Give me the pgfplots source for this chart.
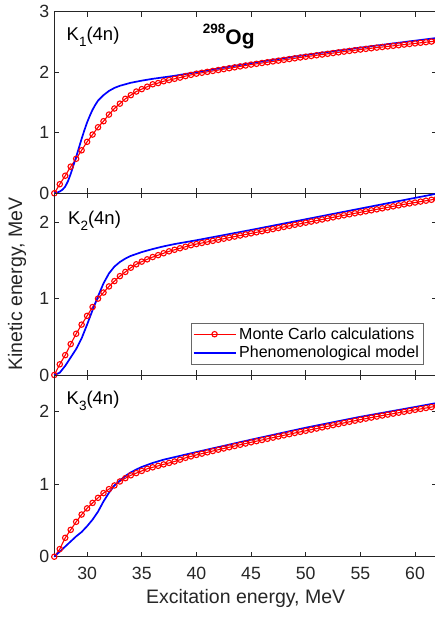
\documentclass[border=0pt]{standalone}
\usepackage{fontspec}
\setmainfont{Liberation Sans}
\usepackage{pgfplots}
\pgfplotsset{compat=1.18}
\definecolor{axgray}{RGB}{38,38,38}
\definecolor{mred}{RGB}{255,0,0}
\definecolor{mblue}{RGB}{0,0,255}

\pgfplotsset{
  panel/.style={
    scale only axis, width=382.6pt, height=181.7pt,
    xmin=27, xmax=62,
    xtick={30,35,...,60},
    tick align=inside, major tick length=5pt,
    axis line style={axgray, line width=0.6pt},
    every tick/.style={axgray, line width=0.6pt},
    tick label style={font=\fontsize{17.7}{20}\selectfont, text=axgray},
    xticklabel style={yshift=-7pt},
    yticklabel style={xshift=-1.5pt},
    /pgf/number format/assume math mode=true,
    clip=false,
  },
  mc/.style={mred, line width=1.1pt, mark=o, mark size=2.7pt, mark options={line width=1.1pt, solid}},
  ph/.style={mblue, line width=1.7pt},
  legmc/.style={mc, legend image code/.code={\draw[mark repeat=2,mark phase=2,##1] plot coordinates {(0pt,0pt) (21pt,0pt) (42pt,0pt)};}},
  legph/.style={ph, legend image code/.code={\draw[##1] (0pt,0pt) -- (42pt,0pt);}},
}

\pgfplotstableread{
x y
27 0
27.5 0.15
28 0.29
28.5 0.44
29 0.57
29.5 0.71
30 0.85
30.5 0.97
31 1.09
31.5 1.19
32 1.30
32.5 1.40
33 1.48
33.5 1.56
34 1.62
34.5 1.68
35 1.72
35.5 1.76
36 1.80
36.5 1.82
37 1.85
37.5 1.87
38 1.89
38.5 1.91
39 1.935
39.5 1.955
40 1.975
40.5 1.99
41 2.005
41.5 2.02
42 2.035
42.5 2.05
43 2.065
43.5 2.08
44 2.095
44.5 2.11
45 2.125
45.5 2.138
46 2.151
46.5 2.164
47 2.177
47.5 2.19
48 2.203
48.5 2.216
49 2.229
49.5 2.242
50 2.255
50.5 2.267
51 2.279
51.5 2.291
52 2.303
52.5 2.315
53 2.327
53.5 2.339
54 2.351
54.5 2.362
55 2.373
55.5 2.384
56 2.395
56.5 2.405
57 2.415
57.5 2.425
58 2.435
58.5 2.445
59 2.455
59.5 2.465
60 2.475
60.5 2.485
61 2.495
61.5 2.505
62 2.515
}\redA

\pgfplotstableread{
x y
27 0
27.25 0.01
27.5 0.03
27.75 0.06
28 0.11
28.25 0.20
28.5 0.32
28.75 0.46
29 0.60
29.25 0.75
29.5 0.90
29.75 1.04
30 1.17
30.25 1.28
30.5 1.38
30.75 1.46
31 1.53
31.5 1.62
32 1.69
32.5 1.74
33 1.775
33.5 1.80
34 1.825
35 1.86
36 1.89
37 1.915
38 1.94
39 1.97
40 2.00
42 2.06
45 2.15
50 2.285
55 2.405
60 2.52
62 2.565
}\blueA

\pgfplotstableread{
x y
27 0
27.5 0.14
28 0.26
28.5 0.405
29 0.54
29.5 0.66
30 0.775
30.5 0.89
31 1.0
31.5 1.08
32 1.16
32.5 1.23
33 1.295
33.5 1.35
34 1.405
34.5 1.45
35 1.485
35.5 1.515
36 1.545
36.5 1.57
37 1.595
37.5 1.62
38 1.64
38.5 1.66
39 1.68
39.5 1.70
40 1.715
40.5 1.729
41 1.743
41.5 1.757
42 1.771
42.5 1.785
43 1.799
43.5 1.813
44 1.827
44.5 1.841
45 1.855
45.5 1.869
46 1.883
46.5 1.897
47 1.911
47.5 1.925
48 1.939
48.5 1.953
49 1.967
49.5 1.981
50 1.995
50.5 2.009
51 2.023
51.5 2.037
52 2.051
52.5 2.065
53 2.079
53.5 2.092
54 2.105
54.5 2.118
55 2.131
55.5 2.144
56 2.157
56.5 2.170
57 2.183
57.5 2.196
58 2.209
58.5 2.222
59 2.235
59.5 2.247
60 2.259
60.5 2.271
61 2.283
61.5 2.295
62 2.307
}\redB

\pgfplotstableread{
x y
27 0
27.5 0.03
28 0.12
28.5 0.23
29 0.34
29.5 0.48
30 0.66
30.5 0.85
31 1.03
31.5 1.20
32 1.33
32.5 1.42
33 1.48
33.5 1.525
34 1.56
35 1.61
36 1.65
37 1.685
38 1.715
40 1.765
45 1.90
50 2.04
55 2.18
60 2.32
62 2.375
}\blueB

\pgfplotstableread{
x y
27 0
27.5 0.105
28 0.26
28.5 0.37
29 0.48
29.5 0.58
30 0.665
30.5 0.74
31 0.81
31.5 0.875
32 0.93
32.5 0.98
33 1.035
33.5 1.08
34 1.12
34.5 1.15
35 1.18
35.5 1.21
36 1.23
36.5 1.25
37 1.27
37.5 1.29
38 1.31
38.5 1.335
39 1.36
39.5 1.38
40 1.40
40.5 1.418
41 1.436
41.5 1.454
42 1.472
42.5 1.489
43 1.506
43.5 1.523
44 1.540
44.5 1.557
45 1.574
45.5 1.590
46 1.606
46.5 1.622
47 1.638
47.5 1.654
48 1.670
48.5 1.686
49 1.702
49.5 1.717
50 1.732
50.5 1.748
51 1.763
51.5 1.779
52 1.794
52.5 1.810
53 1.825
53.5 1.841
54 1.856
54.5 1.871
55 1.886
55.5 1.900
56 1.914
56.5 1.928
57 1.942
57.5 1.955
58 1.968
58.5 1.981
59 1.994
59.5 2.007
60 2.020
60.5 2.033
61 2.046
61.5 2.059
62 2.072
}\redC

\pgfplotstableread{
x y
27 0
27.5 0.07
28 0.14
28.5 0.21
29 0.28
29.5 0.34
30 0.42
30.5 0.51
31 0.62
31.5 0.76
32 0.88
32.5 0.98
33 1.05
33.5 1.11
34 1.16
34.5 1.20
35 1.235
36 1.29
37 1.335
38 1.37
40 1.44
45 1.61
50 1.775
55 1.925
60 2.06
62 2.115
}\blueC

\begin{document}
\begin{tikzpicture}
% panel 1
\begin{axis}[panel, at={(54.3pt,423.7pt)}, anchor=south west,
  ymin=0, ymax=3, ytick={0,1,2,3}, xticklabels={}]
  \addplot[mc] table {\redA};
  \addplot[ph] table {\blueA};
\end{axis}
% panel 2
\begin{axis}[panel, at={(54.3pt,242pt)}, anchor=south west,
  ymin=0, ymax=2.38, ytick={0,1,2}, xticklabels={},
  ylabel={Kinetic energy, MeV},
  ylabel style={font=\fontsize{19.5}{22}\selectfont, text=axgray, at={(axis description cs:-0.084,0.5)}, anchor=base},
  legend style={at={(0.966,0.058)}, anchor=south east, font=\fontsize{16}{18}\selectfont,
    draw=axgray!70, inner sep=2pt, nodes={inner sep=2.8pt}},
  legend cell align=left]
  \addplot[mc, forget plot] table {\redB};
  \addplot[ph, forget plot] table {\blueB};
  \addlegendimage{legmc}
  \addlegendentry{Monte Carlo calculations}
  \addlegendimage{legph}
  \addlegendentry{Phenomenological model}
\end{axis}
% panel 3
\begin{axis}[panel, at={(54.3pt,60.3pt)}, anchor=south west,
  ymin=0, ymax=2.5, ytick={0,1,2},
  xlabel={Excitation energy, MeV},
  xlabel style={font=\fontsize{19.5}{22}\selectfont, text=axgray, at={(axis description cs:0.5,-0.258)}, anchor=base}]
  \addplot[mc] table {\redC};
  \addplot[ph] table {\blueC};
\end{axis}
% panel labels
\node[anchor=base west, inner sep=0] at (66.5pt,576pt) {\fontsize{18.5}{20}\selectfont K\raisebox{-5.5pt}{\fontsize{13.5}{14}\selectfont 1}(4n)};
\node[anchor=base west, inner sep=0] at (68pt,392pt) {\fontsize{18.5}{20}\selectfont K\raisebox{-5.5pt}{\fontsize{13.5}{14}\selectfont 2}(4n)};
\node[anchor=base west, inner sep=0] at (66.5pt,212pt) {\fontsize{18.5}{20}\selectfont K\raisebox{-5.5pt}{\fontsize{13.5}{14}\selectfont 3}(4n)};
\node[anchor=base west, inner sep=0] at (202.7pt,572pt) {\bfseries\raisebox{11.5pt}{\fontsize{13.5}{14}\selectfont 298}\fontsize{21}{22}\selectfont Og};
\pgfresetboundingbox
\useasboundingbox (0,0) rectangle (434pt,617pt);
\end{tikzpicture}
\end{document}
